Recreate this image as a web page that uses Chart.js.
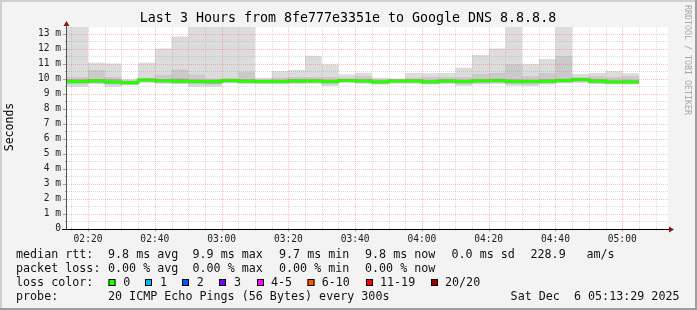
<!DOCTYPE html>
<html>
<head>
<meta charset="utf-8">
<script src="https://cdn.jsdelivr.net/npm/chart.js@4/dist/chart.umd.min.js"></script>
<style>
  body { margin: 0; background: #f3f3f3; }
  canvas { display: block; }
</style>
</head>
<body>
<canvas id="smoke" width="697" height="310"></canvas>
<script>
'use strict';

// data (ms)
let viewStart = '02:13:42';
let viewEnd = '05:13:42';

let slotEnd = ['02:20', '02:25', '02:30', '02:35', '02:40', '02:45', '02:50', '02:55',
  '03:00', '03:05', '03:10', '03:15', '03:20', '03:25', '03:30', '03:35', '03:40', '03:45',
  '03:50', '03:55', '04:00', '04:05', '04:10', '04:15', '04:20', '04:25', '04:30', '04:35',
  '04:40', '04:45', '04:50', '04:55', '05:00', '05:05'];

let pingMax = [13.6, 11.05, 11.0, 9.95, 11.05, 12.0, 12.8, 13.6, 13.6, 13.6, 13.6, 10.05,
  10.5, 10.57, 11.52, 10.94, 10.28, 10.39, 10.05, 10.0, 10.38, 10.35, 10.38, 10.72,
  11.57, 12.0, 13.6, 10.95, 11.3, 13.6, 10.3, 10.38, 10.5, 10.35];
let pingHigh = [10.1, 10.57, 10.1, 9.9, 10.05, 10.25, 10.6, 10.28, 10.0, 10.05, 10.45, 9.95,
  10.05, 10.1, 10.1, 10.1, 10.05, 10.15, 9.95, 9.95, 10.05, 10.1, 10.1, 10.1,
  10.3, 10.38, 10.95, 10.15, 10.38, 11.5, 10.1, 10.15, 10.1, 10.15];
let nearHigh = [9.95, 9.97, 9.95, 9.82, 10.0, 9.97, 10.0, 9.93, 9.92, 9.97, 9.95, 9.9,
  9.92, 9.95, 9.95, 9.92, 9.97, 9.95, 9.88, 9.93, 9.95, 9.9, 9.95, 9.92,
  9.97, 9.98, 9.95, 9.92, 9.95, 9.98, 10.02, 9.95, 9.88, 9.9];
let median = [9.8, 9.85, 9.77, 9.72, 9.9, 9.85, 9.82, 9.8, 9.8, 9.87, 9.82, 9.8,
  9.8, 9.83, 9.83, 9.8, 9.87, 9.83, 9.77, 9.83, 9.83, 9.77, 9.83, 9.8,
  9.85, 9.87, 9.8, 9.8, 9.82, 9.87, 9.93, 9.83, 9.77, 9.77];
let nearLow = [9.68, 9.72, 9.66, 9.62, 9.8, 9.75, 9.72, 9.68, 9.66, 9.76, 9.72, 9.7,
  9.7, 9.72, 9.74, 9.68, 9.78, 9.74, 9.68, 9.74, 9.74, 9.68, 9.72, 9.68,
  9.74, 9.76, 9.68, 9.68, 9.72, 9.76, 9.82, 9.72, 9.68, 9.68];
let pingLow = [9.6, 9.68, 9.58, 9.58, 9.76, 9.7, 9.66, 9.6, 9.58, 9.72, 9.68, 9.66,
  9.66, 9.68, 9.7, 9.6, 9.74, 9.7, 9.64, 9.7, 9.7, 9.64, 9.68, 9.6,
  9.68, 9.7, 9.6, 9.58, 9.66, 9.72, 9.76, 9.66, 9.64, 9.64];
let pingMin = [9.45, 9.62, 9.45, 9.55, 9.72, 9.66, 9.62, 9.45, 9.45, 9.68, 9.62, 9.62,
  9.62, 9.62, 9.66, 9.5, 9.7, 9.66, 9.58, 9.66, 9.66, 9.6, 9.62, 9.52,
  9.6, 9.64, 9.52, 9.5, 9.6, 9.68, 9.72, 9.62, 9.6, 9.6];

let yLabels = [0, 1, 2, 3, 4, 5, 6, 7, 8, 9, 10, 11, 12, 13];
let xLabels = ['02:20', '02:40', '03:00', '03:20', '03:40', '04:00', '04:20', '04:40', '05:00'];

let lossNames = ['0', '1', '2', '3', '4-5', '6-10', '11-19', '20/20'];
let lossColors = ['#26ff00', '#00b8ff', '#0059ff', '#7e00ff', '#ff00ff', '#ff5500', '#ff0000', '#a10000'];

let titleText = 'Last 3 Hours from 8fe777e3351e to Google DNS 8.8.8.8';
let rttRow = ['median rtt:', '9.8 ms avg', '9.9 ms max', '9.7 ms min', '9.8 ms now', '0.0 ms sd', '228.9', 'am/s'];
let lossRow = ['packet loss:', '0.00 % avg', '0.00 % max', '0.00 % min', '0.00 % now'];
let probeRow = ['probe:', '20 ICMP Echo Pings (56 Bytes) every 300s', 'Sat Dec  6 05:13:29 2025'];

// helpers
function toMinutes(t) {
  let p = t.split(':').map(Number);
  return (p[0] - 2) * 60 + p[1] + (p[2] || 0) / 60;
}

function fmtTime(m) {
  let h = 2 + Math.floor(m / 60);
  let mm = Math.round(m % 60);
  return String(h).padStart(2, '0') + ':' + String(mm).padStart(2, '0');
}

// each slot value is drawn from the previous slot end to its own end
// (chart.js 'after' = rise at the previous point, then run flat)
function steps(values) {
  let pts = [{ x: toMinutes(viewStart), y: values[0] }];
  for (let i = 0; i < slotEnd.length; i++) {
    pts.push({ x: toMinutes(slotEnd[i]), y: values[i] });
  }
  return pts;
}

function layer(values, fillTo, color) {
  return {
    data: steps(values),
    stepped: 'after',
    borderWidth: 0,
    borderColor: 'transparent',
    backgroundColor: color,
    pointRadius: 0,
    fill: fillTo
  };
}

let monoFont = 'DejaVu Sans Mono';
let majorGrid = 'rgba(240,90,90,0.38)';
let minorGrid = 'rgba(150,150,150,0.32)';

function dotted(ctx, x1, y1, x2, y2, color) {
  ctx.save();
  ctx.strokeStyle = color;
  ctx.lineWidth = 1;
  ctx.setLineDash([1, 1]);
  ctx.beginPath();
  ctx.moveTo(x1, y1);
  ctx.lineTo(x2, y2);
  ctx.stroke();
  ctx.restore();
}

function solid(ctx, x1, y1, x2, y2, color) {
  ctx.strokeStyle = color;
  ctx.lineWidth = 1;
  ctx.beginPath();
  ctx.moveTo(x1, y1);
  ctx.lineTo(x2, y2);
  ctx.stroke();
}

// background, grid on top of the smoke, axes and the text block
let rrdLook = {
  id: 'rrdLook',
  beforeDraw(chart) {
    let ctx = chart.ctx;
    let a = chart.chartArea;
    ctx.save();
    ctx.fillStyle = '#f3f3f3';
    ctx.fillRect(0, 0, chart.width, chart.height);
    ctx.fillStyle = '#ffffff';
    ctx.fillRect(a.left, a.top, a.right - a.left, a.bottom - a.top);
    ctx.restore();
  },
  afterDatasetsDraw(chart) {
    let ctx = chart.ctx;
    let a = chart.chartArea;
    let xs = chart.scales.x;
    let ys = chart.scales.y;

    for (let v = 0.5; v < ys.max; v += 0.5) {
      let y = Math.round(ys.getPixelForValue(v)) + 0.5;
      let major = Math.abs(v - Math.round(v)) < 0.01;
      dotted(ctx, a.left, y, a.right, y, major ? majorGrid : minorGrid);
    }
    for (let m = 15; m < xs.max; m += 5) {
      let x = Math.round(xs.getPixelForValue(m)) + 0.5;
      let major = m % 20 === 0;
      dotted(ctx, x, a.top, x, a.bottom, major ? majorGrid : minorGrid);
    }
  },
  afterDraw(chart) {
    let ctx = chart.ctx;
    let a = chart.chartArea;
    let xs = chart.scales.x;
    let ys = chart.scales.y;
    ctx.save();

    // tick marks
    for (let v = 0.5; v < ys.max; v += 0.5) {
      let y = Math.round(ys.getPixelForValue(v)) + 0.5;
      let major = Math.abs(v - Math.round(v)) < 0.01;
      solid(ctx, major ? a.left - 4 : a.left - 2, y, a.left, y, '#a0a0a0');
    }
    for (let m = 15; m < xs.max; m += 5) {
      let x = Math.round(xs.getPixelForValue(m)) + 0.5;
      let major = m % 20 === 0;
      solid(ctx, x, a.bottom, x, a.bottom + (major ? 3 : 2), major ? '#e88080' : '#a0a0a0');
    }

    // axes with arrows
    let ax = Math.round(a.left) - 0.5;
    let ay = Math.round(a.bottom) + 0.5;
    solid(ctx, ax, ay, ax, a.top - 4, '#555555');
    solid(ctx, a.left - 5, ay, a.right + 3, ay, '#000000');
    ctx.fillStyle = '#8b1414';
    ctx.beginPath();
    ctx.moveTo(ax, a.top - 6);
    ctx.lineTo(ax - 3, a.top - 1);
    ctx.lineTo(ax + 3, a.top - 1);
    ctx.closePath();
    ctx.fill();
    ctx.beginPath();
    ctx.moveTo(a.right + 6, ay);
    ctx.lineTo(a.right + 1, ay - 3);
    ctx.lineTo(a.right + 1, ay + 3);
    ctx.closePath();
    ctx.fill();

    // title
    ctx.fillStyle = '#000000';
    ctx.textBaseline = 'middle';
    ctx.textAlign = 'center';
    ctx.font = '13.3px "' + monoFont + '"';
    ctx.fillText(titleText, 348, 19);

    // y title
    ctx.save();
    ctx.translate(10, 127);
    ctx.rotate(-Math.PI / 2);
    ctx.font = '11.5px "' + monoFont + '"';
    ctx.fillText('Seconds', 0, 0);
    ctx.restore();

    // watermark on the right
    ctx.save();
    ctx.translate(687.5, 60);
    ctx.rotate(Math.PI / 2);
    ctx.fillStyle = '#a8a8a8';
    ctx.font = '8.3px "' + monoFont + '"';
    ctx.fillText('RRDTOOL / TOBI OETIKER', 0, 0);
    ctx.restore();

    // legend block
    ctx.textAlign = 'left';
    ctx.font = '11.7px "' + monoFont + '"';
    ctx.fillStyle = '#111111';
    let rttX = [16, 108, 192.5, 279, 365, 451.5, 530.5, 586.5];
    rttRow.forEach((t, i) => ctx.fillText(t, rttX[i], 254.5));
    let lossX = [16, 108, 192.5, 279, 365];
    lossRow.forEach((t, i) => ctx.fillText(t, lossX[i], 268.7));
    ctx.fillText('loss color:', 16, 282.7);
    let boxX = [108.5, 145, 182, 219, 257, 307.5, 366, 431];
    let nameX = [123.3, 160, 196.7, 234, 271, 321.7, 380, 445];
    for (let i = 0; i < lossNames.length; i++) {
      ctx.fillStyle = lossColors[i];
      ctx.fillRect(boxX[i], 279, 7, 7);
      ctx.strokeStyle = '#000000';
      ctx.lineWidth = 1;
      ctx.strokeRect(boxX[i] + 0.5, 279.5, 6, 6);
      ctx.fillStyle = '#111111';
      ctx.fillText(lossNames[i], nameX[i], 282.7);
    }
    ctx.fillText(probeRow[0], 16, 296.7);
    ctx.fillText(probeRow[1], 108, 296.7);
    ctx.textAlign = 'right';
    ctx.fillText(probeRow[2], 679.5, 296.7);

    // frame
    ctx.fillStyle = '#cfcfcf';
    ctx.fillRect(0, 0, chart.width, 2);
    ctx.fillRect(0, 0, 2, chart.height);
    ctx.fillStyle = '#9e9e9e';
    ctx.fillRect(chart.width - 2, 0, 2, chart.height);
    ctx.fillRect(0, chart.height - 2, chart.width, 2);
    ctx.restore();
  }
};

let medianSet = {
  data: steps(median),
  stepped: 'after',
  borderWidth: 3,
  borderColor: lossColors[0],
  backgroundColor: lossColors[0],
  pointRadius: 0,
  fill: false
};

let ctx = document.getElementById('smoke');

new Chart(ctx, {
  type: 'line',
  data: {
    datasets: [
      medianSet,
      layer(nearHigh, 2, '#a9a9a9'),
      layer(nearLow, false, 'transparent'),
      layer(pingHigh, 4, '#cacaca'),
      layer(pingLow, false, 'transparent'),
      layer(pingMax, 6, '#dcdcdc'),
      layer(pingMin, false, 'transparent')
    ]
  },
  options: {
    responsive: false,
    animation: false,
    devicePixelRatio: 1,
    layout: { padding: { left: 7, top: 27, right: 29, bottom: 61.5 } },
    plugins: { legend: { display: false }, tooltip: { enabled: false } },
    scales: {
      x: {
        type: 'linear',
        min: toMinutes(viewStart),
        max: toMinutes(viewEnd),
        grid: { display: false, drawTicks: false },
        border: { display: false },
        afterFit: (s) => { s.height = 20; },
        afterBuildTicks: (s) => { s.ticks = xLabels.map((t) => ({ value: toMinutes(t) })); },
        ticks: {
          autoSkip: false,
          maxRotation: 0,
          padding: 5,
          color: '#222222',
          font: { family: monoFont, size: 9.6 },
          callback: (v) => fmtTime(v)
        }
      },
      y: {
        min: 0,
        max: 13.44,
        grid: { display: false, drawTicks: false },
        border: { display: false },
        afterFit: (s) => { s.width = 60; },
        afterBuildTicks: (s) => { s.ticks = yLabels.map((v) => ({ value: v })); },
        ticks: {
          padding: 6,
          color: '#222222',
          font: { family: monoFont, size: 9.6 },
          callback: (v) => (v === 0 ? '0' : v + ' m')
        }
      }
    }
  },
  plugins: [rrdLook]
});
</script>
</body>
</html>
